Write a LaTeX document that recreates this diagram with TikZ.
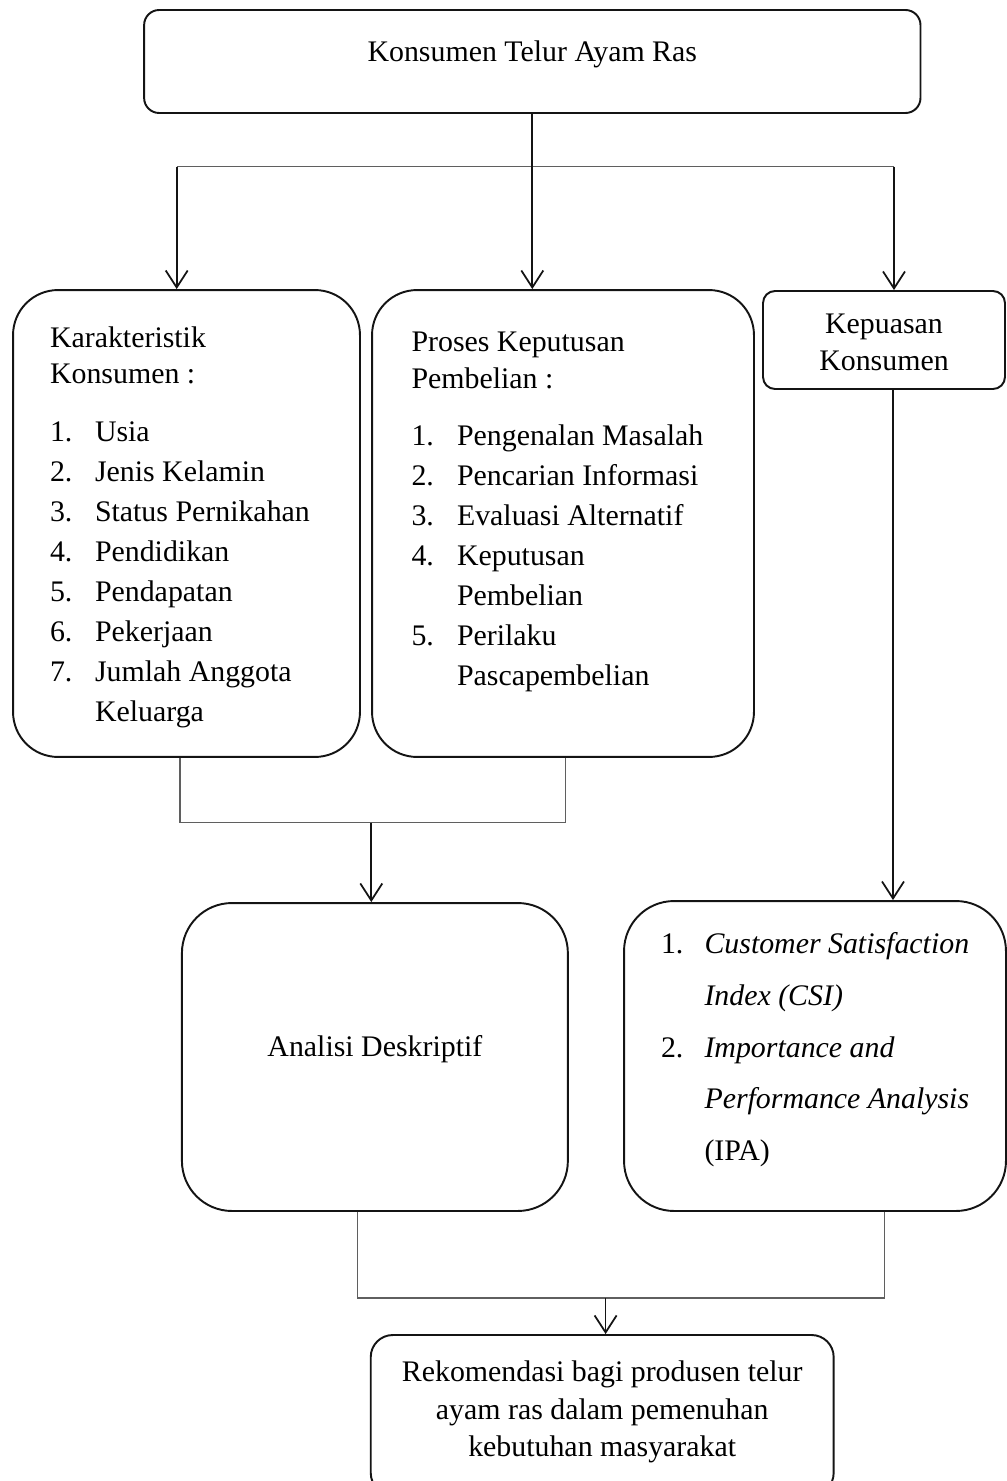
\documentclass[tikz,border=0pt]{standalone}
\usepackage{xcolor}
\usepackage{fontspec}
\setmainfont{Liberation Serif}
\usepackage{tikz}
\usetikzlibrary{arrows.meta}
\definecolor{garisgelap}{RGB}{20, 20, 20}
\definecolor{garisabu}{RGB}{95, 95, 95}

\tikzset{
    kotak/.style={draw=garisgelap, line width=1.1pt, inner sep=0pt},
    panah/.style={draw=garisgelap, line width=1pt, -{Straight Barb[length=0.34cm, width=0.44cm]}},
    garis/.style={draw=garisabu, line width=0.7pt}
}

\begin{document}
\begin{tikzpicture}[x=0.02cm, y=-0.02cm, font=\fontsize{17}{22.76}\selectfont]
        \useasboundingbox (0,0) rectangle (1007,1481);

        \node[kotak, rounded corners=0.3cm] (konsumen) at (532.3,61.5) {
            \begin{minipage}[c][2.06cm][t]{15.53cm}
                \centering\rule{0pt}{1.02cm}Konsumen Telur Ayam Ras
            \end{minipage}
        };

        \node[kotak, rounded corners=0.9cm] (karakteristik) at (186.5,523.5) {
            \begin{minipage}[c][9.34cm][t]{6.94cm}
                \leftskip=0.74cm
                \rule{0pt}{1.14cm}Karakteristik\\[-0.08cm]
                Konsumen :\\[0.37cm]
                \makebox[0.9cm][l]{1.}Usia\\
                \makebox[0.9cm][l]{2.}Jenis Kelamin\\
                \makebox[0.9cm][l]{3.}Status Pernikahan\\
                \makebox[0.9cm][l]{4.}Pendidikan\\
                \makebox[0.9cm][l]{5.}Pendapatan\\
                \makebox[0.9cm][l]{6.}Pekerjaan\\
                \makebox[0.9cm][l]{7.}Jumlah Anggota\\
                \hspace*{0.9cm}Keluarga
            \end{minipage}
        };

        \node[kotak, rounded corners=0.9cm] (proses) at (563,523.5) {
            \begin{minipage}[c][9.34cm][t]{7.64cm}
                \leftskip=0.79cm
                \rule{0pt}{1.23cm}Proses Keputusan\\[-0.07cm]
                Pembelian :\\[0.35cm]
                \makebox[0.91cm][l]{1.}Pengenalan Masalah\\
                \makebox[0.91cm][l]{2.}Pencarian Informasi\\
                \makebox[0.91cm][l]{3.}Evaluasi Alternatif\\
                \makebox[0.91cm][l]{4.}Keputusan\\
                \hspace*{0.91cm}Pembelian\\
                \makebox[0.91cm][l]{5.}Perilaku\\
                \hspace*{0.91cm}Pascapembelian
            \end{minipage}
        };

        \node[kotak, rounded corners=0.24cm] (kepuasan) at (884,340) {
            \begin{minipage}[c][1.96cm][t]{4.84cm}
                \centering\rule{0pt}{0.85cm}Kepuasan\\[-0.06cm]
                Konsumen
            \end{minipage}
        };

        \node[kotak, rounded corners=1cm] (analisis) at (374.9,1057) {
            \begin{minipage}[c][6.16cm][t]{7.72cm}
                \centering\rule{0pt}{3.07cm}Analisi Deskriptif
            \end{minipage}
        };

        \node[kotak, rounded corners=1cm] (metode) at (815,1056) {
            \begin{minipage}[c][6.2cm][t]{7.64cm}
                \fontsize{17}{29.59}\selectfont
                \leftskip=0.74cm
                \rule{0pt}{1.04cm}\makebox[0.87cm][l]{1.}\textit{Customer Satisfaction}\\
                \hspace*{0.87cm}\textit{Index (CSI)}\\
                \makebox[0.87cm][l]{2.}\textit{Importance and}\\
                \hspace*{0.87cm}\textit{Performance Analysis}\\
                \hspace*{0.87cm}(IPA)
            \end{minipage}
        };

        \node[kotak, rounded corners=0.44cm] (rekomendasi) at (602.2,1415) {
            \begin{minipage}[c][3.2cm][t]{9.26cm}
                \fontsize{17}{21.34}\selectfont
                \centering\rule{0pt}{0.93cm}Rekomendasi bagi produsen telur\\
                ayam ras dalam pemenuhan\\
                kebutuhan masyarakat
            \end{minipage}
        };

        \coordinate (cabangkiri) at (176.7,166.7);
        \coordinate (cabangkanan) at (894,166.7);
        \coordinate (gabungatas) at (371.3,822.7);
        \coordinate (gabungbawah) at (605.6,1298);

        \draw[garis] (cabangkiri) -- (cabangkanan);
        \draw[panah] (konsumen.south) -- (konsumen.south |- proses.north);
        \draw[panah] (cabangkiri) -- (cabangkiri |- karakteristik.north);
        \draw[panah] (cabangkanan) -- (cabangkanan |- kepuasan.north);
        \draw[panah] ([xshift=0.18cm]kepuasan.south) -- ([xshift=0.18cm]kepuasan.south |- metode.north);

        \draw[garis] ([xshift=-0.13cm]karakteristik.south) |- (gabungatas) -| ([xshift=0.05cm]proses.south);
        \draw[panah] (gabungatas) -- (gabungatas |- analisis.north);

        \draw[garis] ([xshift=-0.35cm]analisis.south) |- (gabungbawah) -| ([xshift=1.39cm]metode.south);
        \draw[panah] (gabungbawah) -- (gabungbawah |- rekomendasi.north);
    \end{tikzpicture}
\end{document}
